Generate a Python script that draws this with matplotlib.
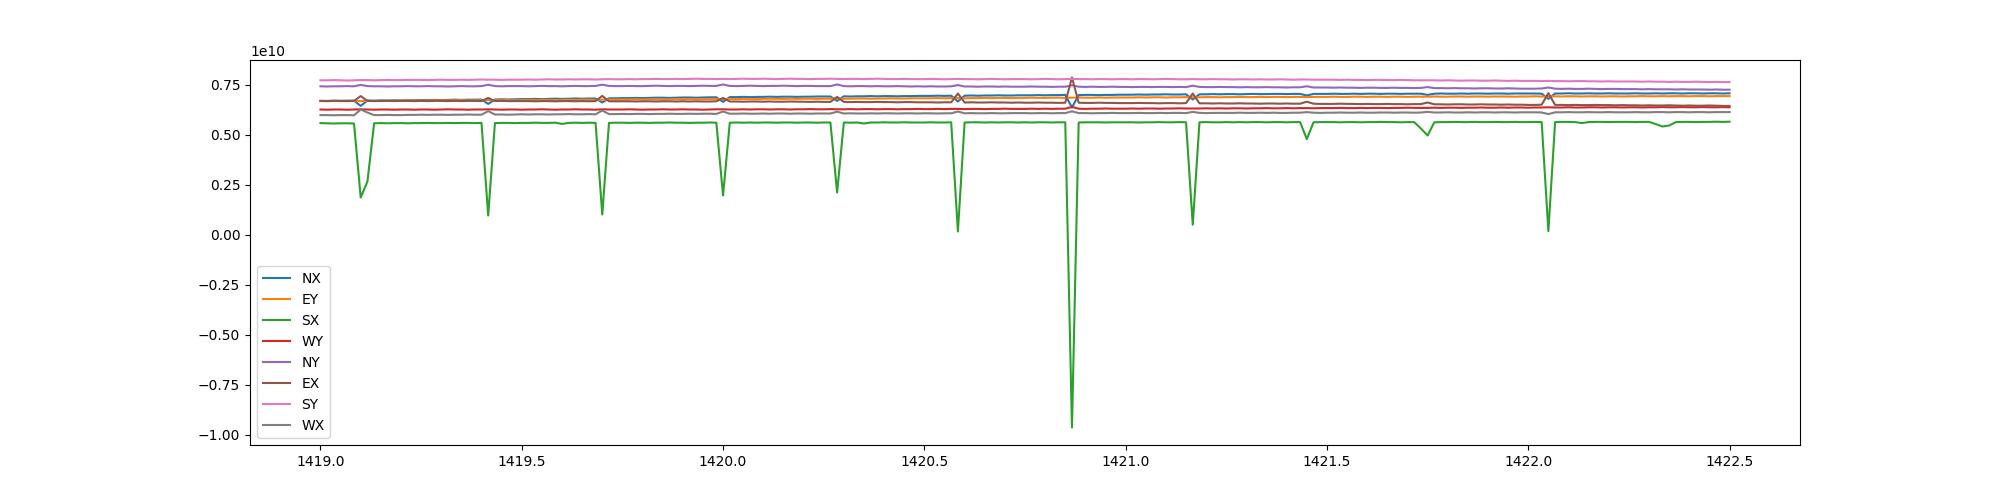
import numpy as np
import matplotlib
matplotlib.use("Agg")
import matplotlib.pyplot as plt

# time axis: 211 samples, one per minute (in hours)
x_start = 1419.0
x_step = 1 / 60
n_samples = 211

# channel values, in units of 1e10
NX = [
    .668, .668, .669, .668, .669, .669, .643, .670, .669, .670, .670, .671, .670, .671, .671,
    .672, .672, .673, .672, .673, .674, .673, .674, .674, .675, .653, .675, .676, .675, .676,
    .677, .677, .678, .677, .678, .679, .678, .679, .680, .679, .680, .680, .660, .681, .681,
    .682, .682, .683, .682, .683, .684, .684, .683, .684, .685, .685, .684, .685, .686, .686,
    .663, .687, .687, .688, .687, .688, .688, .689, .688, .689, .689, .688, .689, .689, .690,
    .690, .690, .668, .691, .690, .691, .691, .692, .691, .692, .692, .691, .692, .692, .693,
    .693, .693, .694, .693, .694, .665, .694, .695, .694, .695, .695, .696, .695, .695, .696,
    .696, .696, .697, .696, .697, .697, .698, .635, .697, .698, .698, .697, .698, .698, .699,
    .699, .699, .700, .699, .700, .700, .701, .700, .700, .701, .675, .701, .701, .702, .701,
    .702, .702, .701, .702, .703, .702, .702, .703, .703, .702, .703, .703, .695, .703, .703,
    .703, .704, .703, .703, .704, .703, .704, .704, .703, .704, .704, .703, .704, .704, .704,
    .698, .704, .705, .704, .704, .705, .704, .705, .705, .704, .705, .705, .704, .705, .705,
    .705, .705, .704, .678, .705, .705, .706, .705, .705, .706, .705, .705, .706, .705, .705,
    .705, .706, .705, .705, .706, .705, .706, .706, .705, .706, .706, .705, .706, .706, .705,
    .706,
]
EY = [
    .667, .667, .668, .667, .668, .668, .667, .668, .668, .669, .668, .669, .669, .670, .669,
    .670, .670, .671, .670, .670, .671, .671, .670, .671, .671, .672, .671, .672, .672, .671,
    .672, .673, .672, .673, .673, .672, .673, .674, .673, .674, .674, .673, .674, .675, .674,
    .675, .675, .676, .675, .676, .676, .675, .676, .677, .676, .677, .677, .676, .677, .677,
    .677, .678, .677, .678, .678, .677, .678, .679, .678, .678, .679, .678, .679, .679, .678,
    .679, .679, .680, .679, .679, .680, .680, .679, .680, .680, .681, .680, .680, .681, .681,
    .681, .681, .682, .681, .682, .682, .681, .682, .682, .683, .682, .683, .683, .682, .683,
    .683, .684, .683, .683, .684, .684, .683, .684, .685, .684, .684, .685, .684, .685, .685,
    .685, .685, .686, .685, .686, .686, .685, .686, .686, .687, .686, .686, .687, .687, .686,
    .687, .687, .688, .687, .687, .688, .687, .688, .688, .687, .688, .688, .687, .688, .688,
    .688, .689, .688, .688, .689, .689, .688, .689, .689, .688, .689, .689, .688, .689, .689,
    .689, .690, .689, .689, .690, .690, .689, .690, .690, .689, .690, .690, .690, .689, .690,
    .690, .691, .690, .690, .691, .690, .691, .691, .690, .691, .691, .690, .691, .691, .690,
    .691, .691, .692, .691, .691, .692, .691, .692, .692, .691, .692, .692, .691, .692, .692,
    .692,
]
SX = [
    .557, .556, .555, .556, .556, .555, .185, .265, .556, .557, .556, .557, .557, .556, .557,
    .557, .558, .557, .557, .558, .557, .558, .558, .557, .558, .095, .557, .558, .558, .557,
    .558, .558, .559, .558, .558, .559, .553, .558, .559, .558, .559, .558, .100, .558, .559,
    .559, .558, .559, .559, .558, .559, .559, .560, .559, .559, .558, .559, .559, .560, .559,
    .195, .559, .560, .559, .560, .559, .560, .560, .559, .560, .560, .559, .560, .560, .559,
    .560, .560, .210, .560, .559, .560, .555, .560, .560, .561, .560, .560, .561, .560, .560,
    .560, .561, .560, .560, .561, .015, .560, .561, .561, .560, .561, .560, .561, .561, .560,
    .561, .560, .561, .561, .560, .561, .561, -.965, .560, .561, .561, .561, .560, .561, .561,
    .561, .561, .560, .561, .561, .562, .561, .561, .562, .561, .049, .561, .562, .561, .561,
    .562, .561, .562, .561, .562, .562, .561, .562, .562, .561, .562, .562, .477, .561, .562,
    .562, .562, .561, .562, .562, .561, .562, .562, .563, .562, .562, .561, .562, .562, .530,
    .495, .561, .562, .562, .563, .562, .562, .563, .562, .562, .563, .562, .562, .563, .562,
    .562, .563, .562, .017, .562, .563, .563, .562, .557, .562, .563, .563, .562, .563, .563,
    .563, .562, .563, .563, .552, .540, .545, .562, .563, .563, .562, .563, .563, .564, .563,
    .564,
]
WY = [
    .625, .624, .625, .625, .624, .625, .626, .625, .624, .625, .625, .624, .625, .625, .624,
    .625, .625, .624, .625, .626, .625, .625, .624, .625, .625, .626, .625, .624, .625, .625,
    .624, .625, .625, .626, .625, .624, .625, .625, .626, .625, .625, .624, .626, .625, .625,
    .625, .626, .625, .624, .625, .625, .626, .625, .625, .626, .625, .625, .624, .625, .626,
    .626, .625, .625, .626, .625, .626, .626, .625, .626, .626, .625, .626, .626, .627, .626,
    .626, .627, .626, .626, .627, .626, .627, .627, .626, .627, .627, .626, .627, .627, .628,
    .627, .627, .628, .627, .628, .628, .627, .628, .628, .627, .628, .628, .629, .628, .628,
    .628, .629, .628, .629, .628, .629, .629, .638, .629, .628, .629, .629, .630, .629, .629,
    .629, .630, .629, .630, .630, .629, .630, .630, .631, .630, .630, .630, .631, .630, .631,
    .630, .631, .631, .630, .631, .631, .632, .631, .631, .632, .631, .632, .632, .631, .632,
    .632, .632, .633, .632, .632, .633, .632, .633, .633, .632, .633, .633, .634, .633, .633,
    .633, .634, .633, .634, .634, .633, .634, .634, .635, .634, .634, .635, .634, .635, .635,
    .634, .635, .635, .636, .635, .635, .636, .635, .635, .636, .636, .635, .636, .636, .635,
    .636, .636, .635, .636, .636, .637, .636, .636, .637, .636, .636, .637, .636, .636, .637,
    .636,
]
NY = [
    .741, .740, .741, .741, .742, .741, .748, .742, .741, .741, .740, .741, .741, .742, .741,
    .741, .742, .741, .741, .740, .741, .742, .741, .741, .742, .749, .742, .741, .742, .742,
    .742, .741, .742, .743, .742, .742, .741, .742, .743, .742, .742, .743, .749, .743, .742,
    .742, .743, .742, .742, .743, .744, .743, .742, .743, .743, .742, .743, .744, .743, .743,
    .750, .743, .742, .743, .744, .743, .742, .743, .743, .744, .743, .742, .743, .743, .742,
    .742, .742, .750, .742, .741, .742, .742, .741, .742, .741, .741, .742, .741, .740, .741,
    .740, .741, .740, .740, .741, .747, .740, .740, .739, .740, .740, .739, .740, .739, .739,
    .739, .740, .739, .739, .738, .739, .739, .746, .739, .738, .739, .738, .738, .739, .738,
    .738, .737, .738, .738, .737, .738, .738, .737, .738, .737, .744, .738, .737, .737, .738,
    .737, .737, .736, .737, .736, .736, .737, .736, .736, .735, .736, .736, .741, .735, .735,
    .735, .734, .735, .734, .734, .733, .734, .734, .733, .733, .734, .733, .733, .732, .733,
    .737, .732, .732, .731, .732, .731, .731, .730, .731, .731, .730, .730, .731, .730, .729,
    .729, .729, .730, .735, .729, .728, .729, .728, .728, .729, .728, .727, .728, .728, .727,
    .727, .727, .726, .727, .726, .726, .726, .725, .726, .725, .725, .725, .724, .725, .724,
    .724,
]
EX = [
    .668, .667, .668, .668, .667, .668, .692, .668, .667, .668, .668, .667, .668, .668, .667,
    .668, .667, .668, .668, .667, .668, .667, .668, .668, .667, .683, .667, .668, .667, .667,
    .667, .667, .666, .667, .667, .666, .667, .667, .666, .667, .666, .667, .693, .666, .666,
    .666, .666, .665, .666, .666, .665, .666, .666, .665, .666, .665, .666, .665, .665, .666,
    .683, .665, .665, .664, .665, .665, .664, .665, .664, .664, .665, .664, .664, .663, .664,
    .663, .663, .688, .663, .662, .663, .662, .662, .663, .662, .662, .661, .662, .662, .661,
    .661, .661, .660, .661, .661, .705, .660, .661, .660, .660, .661, .660, .660, .659, .660,
    .659, .659, .660, .659, .659, .658, .659, .785, .659, .658, .658, .659, .658, .658, .657,
    .657, .657, .658, .657, .657, .656, .657, .657, .656, .657, .705, .656, .656, .655, .656,
    .655, .655, .656, .655, .655, .654, .655, .655, .654, .655, .654, .654, .664, .654, .653,
    .653, .653, .654, .653, .653, .652, .653, .652, .652, .653, .652, .652, .651, .652, .652,
    .660, .651, .651, .650, .651, .651, .650, .650, .651, .650, .650, .649, .650, .649, .649,
    .648, .648, .649, .707, .648, .648, .647, .648, .647, .647, .648, .647, .647, .646, .647,
    .646, .646, .645, .646, .645, .645, .646, .645, .644, .645, .644, .644, .645, .644, .643,
    .643,
]
SY = [
    .771, .771, .772, .771, .770, .771, .772, .772, .771, .772, .773, .772, .772, .773, .773,
    .773, .772, .773, .774, .773, .773, .774, .773, .774, .775, .774, .774, .773, .774, .774,
    .774, .775, .774, .775, .776, .775, .775, .776, .775, .776, .776, .775, .776, .777, .776,
    .776, .777, .776, .777, .777, .778, .777, .777, .778, .777, .778, .779, .778, .778, .777,
    .778, .777, .778, .779, .778, .778, .779, .778, .777, .778, .779, .778, .778, .777, .778,
    .778, .779, .778, .777, .778, .778, .777, .778, .779, .778, .777, .777, .778, .777, .777,
    .777, .778, .777, .776, .777, .778, .777, .777, .776, .777, .778, .777, .776, .777, .777,
    .777, .776, .777, .778, .777, .776, .777, .778, .777, .777, .776, .777, .777, .776, .777,
    .777, .776, .777, .777, .776, .777, .778, .777, .776, .776, .777, .776, .776, .777, .776,
    .776, .775, .776, .776, .775, .776, .775, .775, .776, .775, .774, .775, .775, .774, .774,
    .774, .774, .773, .774, .773, .773, .772, .773, .773, .772, .772, .773, .772, .771, .771,
    .771, .771, .770, .771, .770, .769, .770, .770, .769, .769, .770, .769, .768, .769, .768,
    .768, .768, .767, .768, .767, .767, .766, .767, .767, .766, .766, .765, .766, .765, .765,
    .765, .765, .764, .765, .764, .764, .763, .764, .763, .763, .764, .763, .762, .763, .762,
    .762,
]
WX = [
    .597, .597, .596, .597, .597, .596, .625, .610, .597, .597, .598, .597, .597, .598, .598,
    .599, .598, .599, .599, .598, .599, .599, .600, .599, .599, .617, .600, .600, .599, .600,
    .601, .600, .601, .601, .600, .601, .601, .602, .601, .601, .602, .601, .620, .602, .602,
    .603, .602, .603, .603, .602, .603, .603, .604, .603, .603, .604, .603, .604, .604, .603,
    .615, .604, .604, .605, .604, .604, .605, .604, .605, .605, .604, .605, .605, .604, .605,
    .605, .605, .614, .605, .606, .605, .605, .606, .605, .606, .606, .605, .606, .606, .605,
    .606, .606, .605, .606, .606, .615, .606, .607, .606, .606, .607, .606, .606, .607, .607,
    .607, .606, .607, .607, .606, .607, .607, .616, .607, .607, .606, .607, .607, .608, .607,
    .607, .607, .608, .607, .607, .608, .607, .608, .608, .607, .613, .608, .607, .608, .608,
    .608, .608, .609, .608, .608, .609, .608, .609, .608, .608, .609, .609, .612, .609, .608,
    .609, .609, .610, .609, .609, .610, .609, .609, .610, .610, .609, .610, .610, .609, .610,
    .613, .610, .610, .611, .610, .610, .611, .610, .611, .611, .610, .611, .611, .610, .611,
    .611, .611, .610, .602, .611, .611, .612, .611, .611, .612, .611, .611, .612, .611, .611,
    .611, .612, .611, .611, .612, .612, .611, .612, .612, .611, .612, .612, .611, .612, .612,
    .612,
]

labels = ["NX", "EY", "SX", "WY", "NY", "EX", "SY", "WX"]
series = [NX, EY, SX, WY, NY, EX, SY, WX]

hours = x_start + np.arange(n_samples) * x_step

fig, ax = plt.subplots(figsize=(20, 5), dpi=100)
for name, vals in zip(labels, series):
    ax.plot(hours, np.array(vals) * 1e10, label=name)
ax.legend(loc="lower left")

plt.savefig("out.png")
